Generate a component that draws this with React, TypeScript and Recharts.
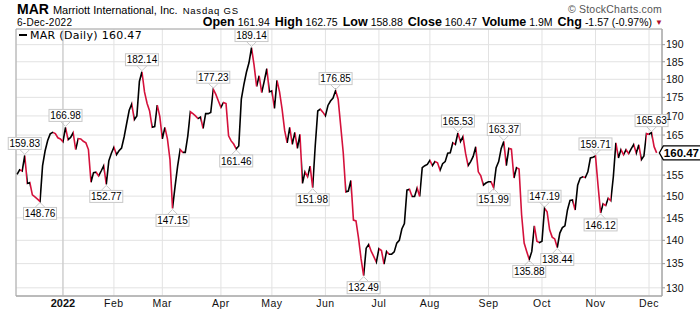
import React from 'react';
import { LineChart, Line, XAxis, YAxis, CartesianGrid, ReferenceArea, ReferenceLine } from 'recharts';

// Daily closes, MAR, trading days from 7-Dec-2021 to 6-Dec-2022
const closes: number[] = [
  155.2, 156.3, 156.0, 159.83, 153.0, 153.2, 150.3, 149.8, 149.3, 148.76,
  157.3, 161.0, 163.6, 165.3, 165.7, 165.4, 164.3, 164.0, 163.3, 166.98,
  163.8, 164.4, 165.6, 161.3, 164.1, 164.0, 163.4, 163.0, 161.3, 153.3,
  155.6, 155.7, 154.8, 156.0, 157.3, 152.77, 158.5, 160.4, 161.9, 160.0,
  161.0, 161.7, 164.5, 168.0, 171.5, 173.2, 169.0, 170.0, 179.4, 182.14,
  176.5, 173.4, 171.3, 167.0, 167.2, 172.9, 169.9, 164.0, 167.0, 164.0,
  158.8, 147.15, 152.3, 157.2, 161.3, 160.6, 160.6, 164.8, 171.1, 170.6,
  170.0, 169.3, 169.7, 166.7, 170.6, 170.6, 170.9, 177.23, 175.8, 174.0,
  172.3, 173.6, 173.3, 164.8, 163.5, 162.7, 161.46, 162.2, 174.5, 178.5,
  182.0, 184.7, 189.14, 184.0, 178.0, 181.0, 176.3, 179.5, 183.0, 176.5,
  176.8, 172.0, 179.7, 176.5, 171.8, 166.2, 163.0, 167.0, 162.6, 165.7,
  161.6, 165.2, 153.0, 155.8, 154.6, 157.2, 151.98, 162.2, 171.3, 171.8,
  171.0, 170.0, 172.8, 174.0, 174.8, 176.85, 174.5, 167.4, 160.5, 151.0,
  151.2, 153.7, 144.5, 144.3, 140.5, 136.0, 132.49, 138.3, 139.1, 137.6,
  136.5, 135.3, 138.2, 137.8, 134.9, 137.6, 137.0, 137.0, 137.5, 139.4,
  140.0, 142.5, 143.7, 151.4, 151.6, 149.9, 149.9, 151.9, 149.9, 156.8,
  157.3, 157.6, 158.6, 157.3, 158.3, 158.0, 156.2, 157.8, 158.3, 160.4,
  160.5, 163.0, 162.6, 165.53, 163.3, 164.6, 160.4, 157.3, 158.3, 159.6,
  162.0, 155.8, 154.8, 152.6, 153.1, 153.4, 153.4, 151.99, 156.8, 158.3,
  161.6, 163.37, 157.3, 161.6, 161.4, 154.3, 156.8, 156.5, 145.7, 139.4,
  137.6, 135.88, 137.6, 143.2, 139.8, 139.5, 139.8, 147.19, 146.4, 142.3,
  140.7, 140.3, 138.44, 141.6, 142.8, 143.2, 146.8, 149.0, 149.1, 146.8,
  152.6, 154.3, 154.6, 154.4, 155.8, 159.2, 159.4, 159.71, 152.5, 146.12,
  148.2, 147.8, 149.5, 148.9, 154.6, 163.0, 159.2, 161.3, 160.0, 161.3,
  160.3, 161.5, 162.6, 160.4, 162.5, 158.8, 159.7, 165.4, 165.2, 165.63,
  162.04, 160.47,
];

// x-axis: trading-day index of the first session of each month
const xTickIndex: number[] = [18, 38, 57, 80, 100, 121, 142, 162, 185, 206, 227, 248];
const xTickLabels: string[] = ['2022', 'Feb', 'Mar', 'Apr', 'May', 'Jun', 'Jul', 'Aug', 'Sep', 'Oct', 'Nov', 'Dec'];
const yTicks: number[] = [130, 135, 140, 145, 150, 155, 160, 165, 170, 175, 180, 185, 190];
const xDomain: [number, number] = [-0.43, 253.1];
const yDomain: [number, number] = [128.35, 194.7];

// annotated swing highs and lows (trading-day index)
const highIdx: number[] = [3, 19, 49, 77, 92, 125, 173, 191, 207, 227, 249];
const lowIdx: number[] = [9, 35, 61, 86, 116, 136, 187, 201, 212, 229];

const data = closes.map((c, i) => ({ i, close: c }));
const lastIdx = closes.length - 1;

const UP = '#000000';
const DOWN = '#d4113b';
const FONT = "'Liberation Sans', Arial, sans-serif";

const gradStops: React.ReactElement[] = [];
for (let k = 0; k < closes.length - 1; k++) {
  const col = closes[k + 1] < closes[k] ? DOWN : UP;
  gradStops.push(<stop key={`a${k}`} offset={k / lastIdx} stopColor={col} />);
  gradStops.push(<stop key={`b${k}`} offset={(k + 1) / lastIdx} stopColor={col} />);
}

const renderDot = (props: any) => {
  const { cx, cy, index } = props;
  if (index === lastIdx) {
    const t = cx + 2.7;
    return (
      <g key={`d${index}`}>
        <polygon
          points={`${t},${cy} ${t + 4},${cy - 7} ${t + 44},${cy - 7} ${t + 44},${cy + 7} ${t + 4},${cy + 7}`}
          fill="#fff"
          stroke="#000"
          strokeWidth={1.2}
        />
        <text x={t + 4.5} y={cy} dy="0.36em" fontSize={11.5} fontWeight="bold" fontFamily={FONT} fill="#000">
          {closes[index].toFixed(2)}
        </text>
      </g>
    );
  }
  const kind = highIdx.includes(index) ? 'high' : lowIdx.includes(index) ? 'low' : null;
  if (!kind) return <g key={`d${index}`} />;
  const w = 33;
  const h = 12;
  const gap = 6;
  const boxY = kind === 'high' ? cy - gap - h : cy + gap;
  const edgeY = kind === 'high' ? cy - gap : cy + gap;
  const tipY = kind === 'high' ? cy - 1 : cy + 1;
  return (
    <g key={`d${index}`}>
      <polyline points={`${cx - 5},${edgeY} ${cx},${tipY} ${cx + 5},${edgeY}`} fill="none" stroke="#c8c8c8" strokeWidth={1} />
      <rect x={cx - w / 2} y={boxY} width={w} height={h} fill="#fff" stroke="#c8c8c8" strokeWidth={1} />
      <text x={cx} y={boxY + h / 2} dy="0.36em" textAnchor="middle" fontSize={10} fontFamily={FONT} fill="#000">
        {closes[index].toFixed(2)}
      </text>
    </g>
  );
};

const XTick = (props: any) => {
  const { x, y, payload } = props;
  const pos = xTickIndex.indexOf(payload.value);
  const label = xTickLabels[pos] ?? '';
  const bold = pos === 0;
  return (
    <text
      x={x}
      y={y}
      dy={11}
      textAnchor="middle"
      fontSize={bold ? 11 : 10.5}
      fontWeight={bold ? 'bold' : 'normal'}
      fontFamily={FONT}
      fill="#111"
      letterSpacing={bold ? 0 : 0.5}
    >
      {label}
    </text>
  );
};

const YTick = (props: any) => {
  const { x, y, payload } = props;
  if (payload.value === 160) return <g />;
  return (
    <text x={x} y={y} dy="0.36em" textAnchor="start" fontSize={10.5} fontFamily={FONT} fill="#111">
      {payload.value}
    </text>
  );
};

export default function App() {
  return (
    <div style={{ position: 'absolute', left: 0, top: 0, width: 700, height: 312, background: '#fff', overflow: 'hidden' }}>
      <LineChart width={700} height={312} data={data} margin={{ top: 29, right: 0, bottom: 0, left: 16 }}>
        <defs>
          <linearGradient id="segGrad" x1="0" y1="0" x2="1" y2="0">
            {gradStops}
          </linearGradient>
        </defs>
        <CartesianGrid stroke="#e2e2e2" strokeWidth={1} />
        <XAxis
          dataKey="i"
          type="number"
          domain={xDomain}
          ticks={xTickIndex}
          interval={0}
          tick={<XTick />}
          tickLine={false}
          tickSize={0}
          tickMargin={0}
          axisLine={{ stroke: '#a8a8a8' }}
          height={16}
        />
        <YAxis
          orientation="right"
          scale="log"
          domain={yDomain}
          ticks={yTicks}
          interval={0}
          tick={<YTick />}
          tickLine={{ stroke: '#999' }}
          tickSize={3}
          tickMargin={1}
          axisLine={{ stroke: '#a8a8a8' }}
          width={38}
        />
        <ReferenceLine x={18} stroke="#c4c4c4" strokeWidth={1} />
        <ReferenceArea
          x1={xDomain[0]}
          x2={xDomain[1]}
          y1={yDomain[0]}
          y2={yDomain[1]}
          fill="none"
          stroke="#a8a8a8"
          strokeWidth={1}
        />
        <Line
          type="linear"
          dataKey="close"
          stroke="url(#segGrad)"
          strokeWidth={1.6}
          dot={renderDot}
          activeDot={false}
          isAnimationActive={false}
        />
      </LineChart>
      <svg width={700} height={312} style={{ position: 'absolute', left: 0, top: 0, pointerEvents: 'none' }}>
        <text x={17} y={14} fontFamily={FONT} fill="#000">
          <tspan fontSize={14} fontWeight="bold">MAR</tspan>
          <tspan fontSize={11} dx={4}>Marriott International, Inc.</tspan>
          <tspan fontSize={9.5} dx={5} letterSpacing={0.8}>Nasdaq GS</tspan>
        </text>
        <text x={17} y={26} fontSize={10} fontFamily={FONT} fill="#000" letterSpacing={0.3}>
          6-Dec-2022
        </text>
        <text x={662} y={13} textAnchor="end" fontSize={10.5} fontFamily={FONT} fill="#555" letterSpacing={0.2}>
          © StockCharts.com
        </text>
        <text x={652} y={26} textAnchor="end" fontFamily={FONT} fill="#000">
          <tspan fontSize={12.5} fontWeight="bold">Open</tspan>
          <tspan fontSize={10.5} dx={3}>161.94</tspan>
          <tspan fontSize={12.5} fontWeight="bold" dx={5}>High</tspan>
          <tspan fontSize={10.5} dx={3}>162.75</tspan>
          <tspan fontSize={12.5} fontWeight="bold" dx={5}>Low</tspan>
          <tspan fontSize={10.5} dx={3}>158.88</tspan>
          <tspan fontSize={12.5} fontWeight="bold" dx={5}>Close</tspan>
          <tspan fontSize={10.5} dx={3}>160.47</tspan>
          <tspan fontSize={12.5} fontWeight="bold" dx={5}>Volume</tspan>
          <tspan fontSize={10.5} dx={3}>1.9M</tspan>
          <tspan fontSize={12.5} fontWeight="bold" dx={5}>Chg</tspan>
          <tspan fontSize={10.5} dx={3}>-1.57 (-0.97%)</tspan>
        </text>
        <text x={655} y={25} fontSize={8} fontFamily={FONT} fill="#b0102f">▼</text>
        <line x1={19} y1={35} x2={27} y2={35} stroke="#000" strokeWidth={2} />
        <text x={30} y={39} fontSize={11} fontFamily="'DejaVu Sans', Verdana, sans-serif" fill="#000" letterSpacing={0.3}>
          MAR (Daily) 160.47
        </text>
      </svg>
    </div>
  );
}
